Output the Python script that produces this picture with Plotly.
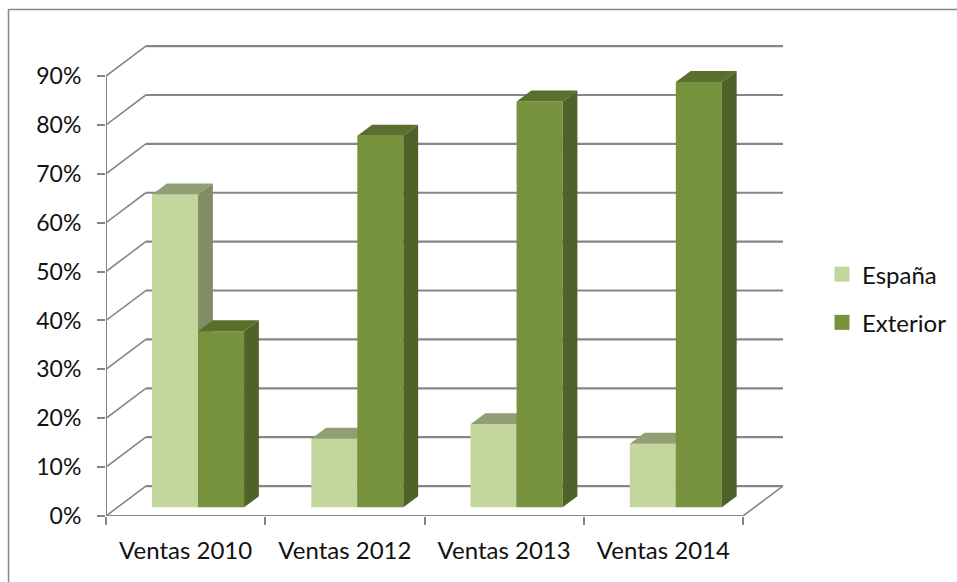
import plotly.graph_objects as go

categories = ["Ventas 2010", "Ventas 2012", "Ventas 2013", "Ventas 2014"]
espana = [64, 14, 17, 13]
exterior = [36, 76, 83, 87]
y_ticks = [0, 10, 20, 30, 40, 50, 60, 70, 80, 90]

# Oblique-projection constants, in axis units (category widths / percent points)
WALL_DX, WALL_DY = 0.25, 6.13
BAR_DX, BAR_DY = 0.093, 2.25
BAR_BASE = 1.78
BAR_W = 0.289
ESP_OFF, EXT_OFF = 0.289, 0.578
XMAX, YMAX = 4.251, 98.2

GRID = "#868686"
FONT = "Lato, Carlito, Calibri, sans-serif"
C = {"esp": ("#C3D69B", "#929F74", "#808D66"), "ext": ("#76923C", "#5A6F2D", "#4F6228")}


def faces(vals, off):
    top_x, top_y, side_x, side_y = [], [], [], []
    for i, v in enumerate(vals):
        x0, x1 = i + off, i + off + BAR_W
        t = BAR_BASE + v
        top_x += [x0, x1, x1 + BAR_DX, x0 + BAR_DX, x0, None]
        top_y += [t, t, t + BAR_DY, t + BAR_DY, t, None]
        side_x += [x1, x1 + BAR_DX, x1 + BAR_DX, x1, x1, None]
        side_y += [BAR_BASE, BAR_BASE + BAR_DY, t + BAR_DY, t, BAR_BASE, None]
    return top_x, top_y, side_x, side_y


fig = go.Figure()


def add_series(name, vals, off, cols, xa, ya):
    fig.add_trace(go.Bar(
        name=name, x=[i + off + BAR_W / 2 for i in range(len(vals))], y=vals,
        base=[BAR_BASE] * len(vals), width=BAR_W, showlegend=False,
        marker=dict(color=cols[0], line=dict(width=0)), xaxis=xa, yaxis=ya))
    tx, ty, sx, sy = faces(vals, off)
    for fx, fy, col in ((sx, sy, cols[2]), (tx, ty, cols[1])):
        fig.add_trace(go.Scatter(
            x=fx, y=fy, mode="lines", fill="toself", fillcolor=col,
            line=dict(width=0, color=col), showlegend=False, hoverinfo="skip",
            xaxis=xa, yaxis=ya))
    # legend key, larger than the fixed-size bar swatch
    fig.add_trace(go.Scatter(
        name=name, x=[None], y=[None], mode="markers", legendgroup=name,
        marker=dict(symbol="square", size=15, color=cols[0], line=dict(width=0)),
        xaxis=xa, yaxis=ya))


add_series("España", espana, ESP_OFF, C["esp"], "x", "y")
add_series("Exterior", exterior, EXT_OFF, C["ext"], "x2", "y2")

shapes = []
n = len(categories)
for v in y_ticks:
    shapes.append(dict(type="line", xref="x", yref="y", layer="below",
                       x0=WALL_DX, x1=XMAX, y0=v + WALL_DY, y1=v + WALL_DY,
                       line=dict(color=GRID, width=2.2)))
    shapes.append(dict(type="line", xref="x", yref="y", layer="below",
                       x0=0, x1=WALL_DX, y0=v, y1=v + WALL_DY,
                       line=dict(color=GRID, width=1.6)))
FRAME_L, FRAME_T = (8.5 - 106) / 677, (516 - 9.5) / 480
shapes += [
    dict(type="line", xref="x", yref="y", layer="below", x0=0, x1=0, y0=0, y1=y_ticks[-1],
         line=dict(color=GRID, width=2)),
    dict(type="line", xref="x", yref="y", layer="below", x0=0, x1=n, y0=0, y1=0,
         line=dict(color=GRID, width=2)),
    dict(type="line", xref="x", yref="y", layer="below", x0=n, x1=XMAX, y0=0, y1=WALL_DY,
         line=dict(color=GRID, width=1.6)),
    # chart frame: top and left edges
    dict(type="line", xref="paper", yref="paper", x0=FRAME_L, x1=1.3, y0=FRAME_T, y1=FRAME_T,
         line=dict(color=GRID, width=1.5)),
    dict(type="line", xref="paper", yref="paper", x0=FRAME_L, x1=FRAME_L, y0=FRAME_T, y1=-0.2,
         line=dict(color=GRID, width=1.5)),
]

fig.update_layout(
    width=957, height=582, autosize=False,
    margin=dict(l=106, r=174, t=36, b=66, autoexpand=False),
    paper_bgcolor="white", plot_bgcolor="rgba(0,0,0,0)",
    barmode="overlay", shapes=shapes,
    font=dict(family=FONT, size=24, color="#111111"),
    legend=dict(x=1.0576, y=0.453, xanchor="left", yanchor="middle",
                itemclick=False, tracegroupgap=14, bgcolor="rgba(0,0,0,0)",
                font=dict(size=24)),
    xaxis=dict(range=[0, XMAX], showgrid=False, zeroline=False, showline=False,
               tickmode="array", tickvals=[i + 0.5 for i in range(n)], ticktext=categories,
               ticks="outside", ticklen=0, ticklabelstandoff=13,
               tickcolor="rgba(0,0,0,0)", tickfont=dict(size=24),
               minor=dict(tickmode="array", tickvals=list(range(n + 1)), ticks="outside",
                          ticklen=8, tickwidth=2, tickcolor=GRID, showgrid=False)),
    yaxis=dict(range=[0, YMAX], showgrid=False, zeroline=False, showline=False,
               tickmode="array", tickvals=y_ticks, ticktext=[f"{v}%" for v in y_ticks],
               ticks="outside", ticklen=8, tickwidth=2, tickcolor=GRID, ticklabelstandoff=11,
               tickfont=dict(size=23)),
    xaxis2=dict(range=[0, XMAX], overlaying="x", visible=False),
    yaxis2=dict(range=[0, YMAX], overlaying="y", visible=False),
)

fig.write_html("out.html", config={"displayModeBar": False},
               post_script="document.body.style.margin='0';document.body.style.overflow='hidden';")
